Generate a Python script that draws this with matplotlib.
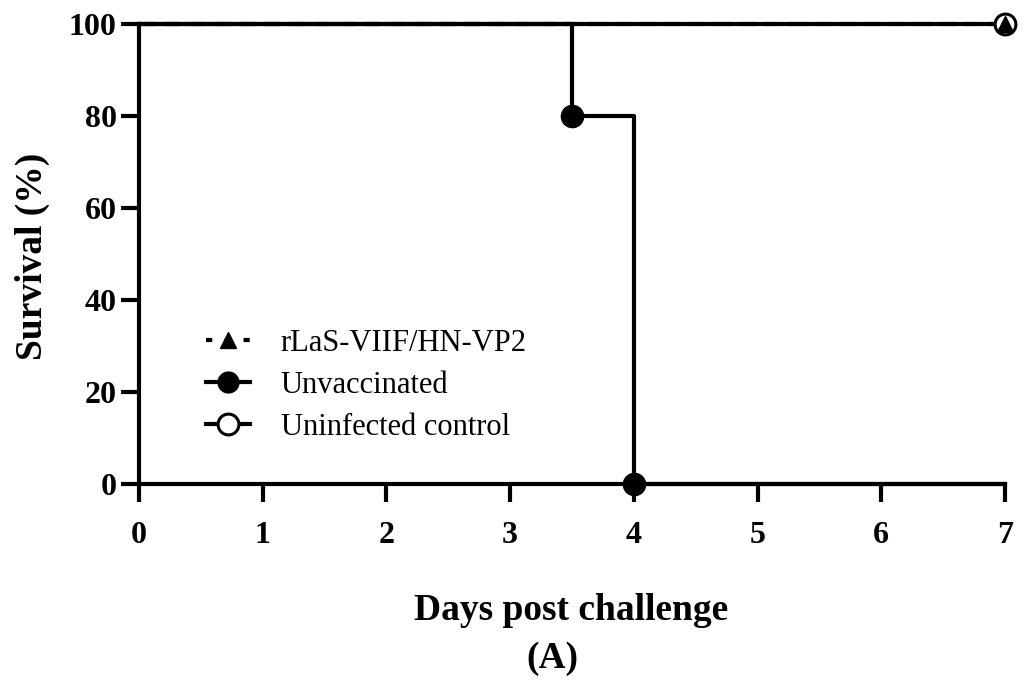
import matplotlib
matplotlib.use("Agg")
import matplotlib.pyplot as plt
from matplotlib.lines import Line2D

plt.rcParams['font.family'] = ['Liberation Serif', 'DejaVu Serif']

# Data (Kaplan-Meier style step data)
vacc_days = [0, 7]
vacc_surv = [100, 100]
unvac_days = [0, 3.5, 4, 7]
unvac_surv = [100, 80, 0, 0]
ctrl_days = [0, 7]
ctrl_surv = [100, 100]

x_ticks = [0, 1, 2, 3, 4, 5, 6, 7]
y_ticks = [0, 20, 40, 60, 80, 100]
labels = ['rLaS-VIIF/HN-VP2', 'Unvaccinated', 'Uninfected control']

W, H = 1029, 680
fig = plt.figure(figsize=(W/100, H/100), dpi=100)
ax = fig.add_axes([139/W, 1-484/H, (1005-139)/W, (484-24)/H])

lw = 3.0
# uninfected control
ax.step(ctrl_days, ctrl_surv, where='post', color='black', lw=lw, zorder=2, clip_on=False)
ax.plot([ctrl_days[-1]], [ctrl_surv[-1]], 'o', mfc='white', mec='black', mew=2.2, ms=15, zorder=4, clip_on=False)
# unvaccinated
ax.step(unvac_days, unvac_surv, where='post', color='black', lw=lw, zorder=3, clip_on=False)
ax.plot(unvac_days[1:3], unvac_surv[1:3], 'o', color='black', ms=16, zorder=5, clip_on=False)
# vaccinated
ax.step(vacc_days, vacc_surv, where='post', color='black', lw=lw, ls=(0, (4, 2)), zorder=3, clip_on=False)
ax.plot([vacc_days[-1]], [vacc_surv[-1]], '^', color='black', ms=11, zorder=5, clip_on=False)

ax.set_xlim(0, 7)
ax.set_ylim(0, 100)
ax.set_xticks(x_ticks)
ax.set_yticks(y_ticks)
for s in ['top', 'right']:
    ax.spines[s].set_visible(False)
for s in ['left', 'bottom']:
    ax.spines[s].set_linewidth(lw)
ax.tick_params(width=lw, length=13, labelsize=23)
ax.tick_params(axis='x', pad=13.5)
ax.tick_params(axis='y', pad=3)
for lab in ax.get_xticklabels() + ax.get_yticklabels():
    lab.set_fontweight('bold')

fig.text(32/W, 1-256/H, 'Survival (%)', rotation=90, ha='center', va='center',
         fontsize=27, fontweight='bold')
fig.text(571/W, 1-620/H, 'Days post challenge', ha='center', va='baseline',
         fontsize=27, fontweight='bold')
fig.text(552/W, 1-668/H, '(A)', ha='center', va='baseline', fontsize=27, fontweight='bold')

handles = [
    Line2D([], [], color='black', lw=lw, ls=(0, (1.5, 3)), marker='^', ms=11),
    Line2D([], [], color='black', lw=lw, marker='o', ms=15),
    Line2D([], [], color='black', lw=lw, marker='o', ms=15, mfc='white', mew=2.2),
]
fig.legend(handles, labels, loc='upper left', bbox_to_anchor=(206/W, 1-329/H),
           bbox_transform=fig.transFigure, frameon=False, borderpad=0, borderaxespad=0,
           fontsize=22, handlelength=1.45, handletextpad=1.0, labelspacing=0.42)

fig.savefig('out.png', dpi=100)
